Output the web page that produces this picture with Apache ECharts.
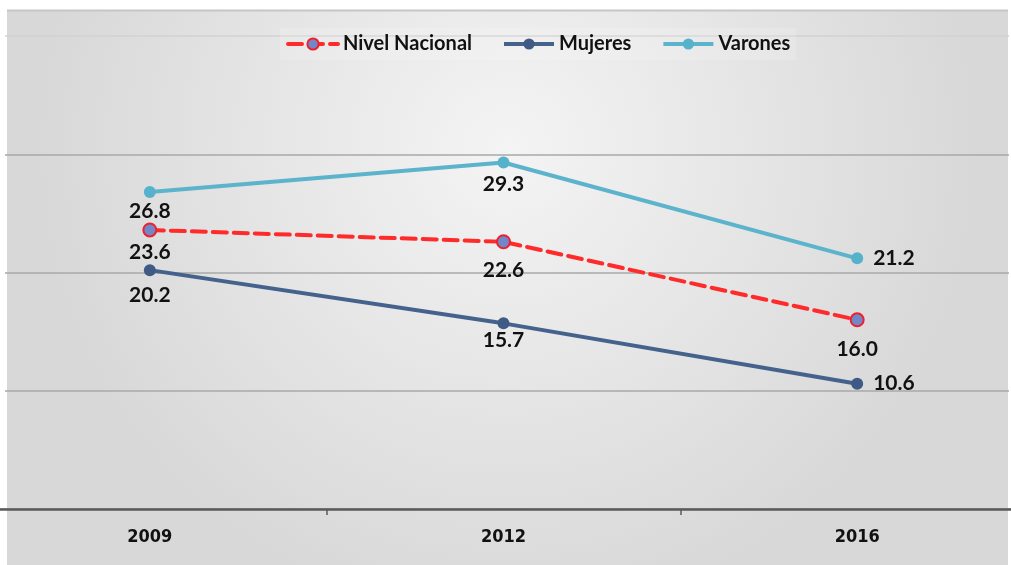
<!DOCTYPE html>
<html><head><meta charset="utf-8">
<script src="https://cdn.jsdelivr.net/npm/echarts@6/dist/echarts.min.js"></script>
<style>html,body{margin:0;padding:0;background:#fff;overflow:hidden;width:1011px;height:565px;position:relative}#c{width:1061px;height:565px;position:absolute;left:-27px;top:0}</style>
</head><body><div id="c"></div>
<script>
var categories = ['2009', '2012', '2016'];
var nivelNacional = [23.6, 22.6, 16.0];
var mujeres = [20.2, 15.7, 10.6];
var varones = [26.8, 29.3, 21.2];
var seriesNames = ['Nivel Nacional', 'Mujeres', 'Varones'];

var OX = 27; // horizontal offset of the canvas
var chart = echarts.init(document.getElementById('c'), null, {renderer: 'canvas'});
var lblFont = {fontFamily: 'Lato', fontWeight: 'bold', fontSize: 21, color: '#111'};
function lbl(pos) { return Object.assign({show: true, position: pos, distance: 5, formatter: function(p){return p.value.toFixed(1);}}, lblFont); }
function pt(v, pos, dist) { return {value: v, label: {position: pos, distance: dist}}; }

chart.setOption({
  animation: false,
  backgroundColor: '#fff',
  graphic: [
    {type: 'rect', z: -10, shape: {x: OX + 7, y: 10, width: 1001, height: 555},
     style: {fill: new echarts.graphic.RadialGradient(0.5, 0.25, 0.85, [{offset: 0, color: '#f4f4f4'}, {offset: 1, color: '#d8d8d8'}])}},
    {type: 'line', z: 50, shape: {x1: OX + 7, y1: 10.5, x2: OX + 1008, y2: 10.5}, style: {stroke: '#c6c6c6', lineWidth: 2}},
    {type: 'rect', z: 100, shape: {x: 0, y: 0, width: OX + 5, height: 505}, style: {fill: '#fff'}},
    {type: 'rect', z: 100, shape: {x: OX + 1009, y: 0, width: 40, height: 505}, style: {fill: '#fff'}}
  ],
  legend: {
    data: seriesNames,
    left: OX + 280, top: 28,
    itemWidth: 50, itemHeight: 14, itemGap: 30,
    lineStyle: {width: 4},
    backgroundColor: 'rgba(255,255,255,0.15)',
    padding: [6, 6, 6, 6],
    textStyle: {fontFamily: 'Lato', fontWeight: 'bold', fontSize: 20, color: '#111'}
  },
  grid: {left: 0, right: 0, top: 36, bottom: 56, containLabel: false},
  xAxis: {
    type: 'category', data: categories, boundaryGap: true,
    axisLine: {show: true, lineStyle: {color: '#5a5a5a', width: 2.5}},
    axisTick: {show: true, length: 6, lineStyle: {color: '#5a5a5a', width: 1.5}},
    axisLabel: {fontFamily: '"DejaVu Sans Condensed", "Liberation Sans Narrow", "Liberation Sans", sans-serif', fontWeight: 'bold', fontSize: 18, color: '#111', margin: 19},
    splitLine: {show: false}
  },
  yAxis: {
    type: 'value', min: 0, max: 40, interval: 10,
    axisLabel: {show: false}, axisLine: {show: false}, axisTick: {show: false},
    splitLine: {show: true, lineStyle: {color: ['#a8a8a8', '#a8a8a8', '#a8a8a8', '#a8a8a8', '#d2d2d2'], width: 1.5}}
  },
  series: [
    {name: seriesNames[0], type: 'line', z: 3,
     data: [pt(nivelNacional[0], 'bottom', 4), pt(nivelNacional[1], 'bottom', 10), pt(nivelNacional[2], 'bottom', 11)],
     symbol: 'circle', symbolSize: 13,
     lineStyle: {color: '#ff2b2b', width: 4, type: [14, 7], cap: 'round'},
     itemStyle: {color: '#7088c8', borderColor: '#ee2030', borderWidth: 2},
     label: lbl('bottom')},
    {name: seriesNames[1], type: 'line', z: 2,
     data: [pt(mujeres[0], 'bottom', 9), pt(mujeres[1], 'bottom', 0), pt(mujeres[2], 'right', 10)],
     symbol: 'circle', symbolSize: 12,
     lineStyle: {color: '#44628c', width: 4},
     itemStyle: {color: '#3f5b85'},
     label: lbl('bottom')},
    {name: seriesNames[2], type: 'line', z: 2,
     data: [pt(varones[0], 'bottom', 3), pt(varones[1], 'bottom', 5), pt(varones[2], 'right', 10)],
     symbol: 'circle', symbolSize: 12,
     lineStyle: {color: '#5cb3cc', width: 4},
     itemStyle: {color: '#56b1cb'},
     label: lbl('bottom')}
  ]
});
</script></body></html>
